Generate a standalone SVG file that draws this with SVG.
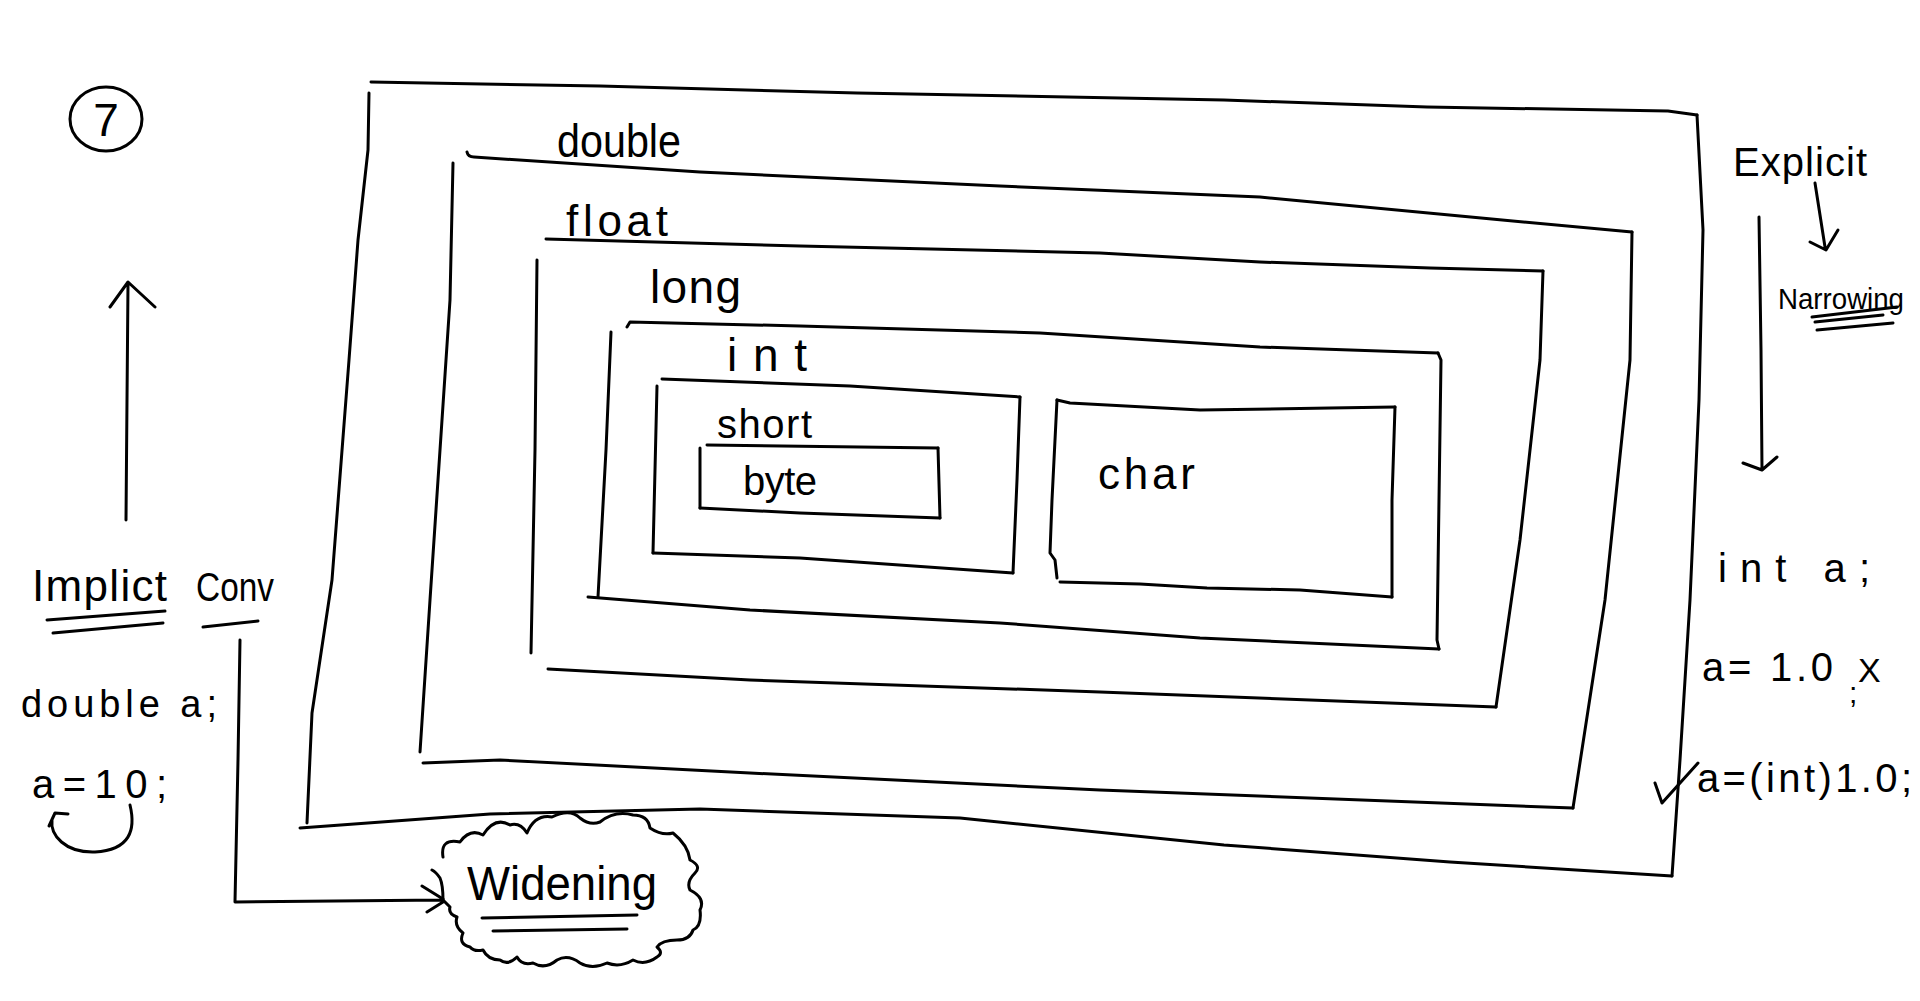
<svg xmlns="http://www.w3.org/2000/svg" width="1920" height="1001" viewBox="0 0 1920 1001">
<style>
.s{fill:none;stroke:#000;stroke-width:3;stroke-linecap:round;stroke-linejoin:round}
.t{font-family:"Liberation Sans",Arial,sans-serif;fill:#000}
</style>
<rect width="1920" height="1001" fill="#fff"/>
<g id="badge7">
<ellipse class="s" cx="106" cy="119" rx="36" ry="32"/>
<text class="t" x="106" y="136" font-size="46" text-anchor="middle">7</text>
</g>
<g id="box-double">
<path class="s" d="M371,82 L600,86 L857,93 L1224,100 L1427,107 L1668,111 L1697,115"/>
<path class="s" d="M1697,115 L1703,230 L1699,400 L1690,600 L1680,760 L1672,876"/>
<path class="s" d="M300,828 L490,814 L700,809 L960,818 L1224,845 L1450,862 L1672,876"/>
<path class="s" d="M369,93 L368,150 L358,240 L349,360 L332,580 L312,713 L307,823"/>
<text class="t" x="557" y="157" font-size="46" textLength="124" lengthAdjust="spacingAndGlyphs">double</text>
</g>
<g id="box-float">
<path class="s" d="M467,152 Q468,157 474,157 L700,172 L1000,186 L1260,197 L1460,216 L1632,232"/>
<path class="s" d="M1632,232 L1630,360 L1605,600 L1573,808"/>
<path class="s" d="M423,763 L500,760 L750,773 L1100,790 L1573,808"/>
<path class="s" d="M453,163 L450,300 L440,450 L430,600 L420,752"/>
<text class="t" x="566" y="236" font-size="44" textLength="102" lengthAdjust="spacing">float</text>
</g>
<g id="box-long">
<path class="s" d="M546,239 L800,246 L1100,253 L1260,262 L1430,268 L1543,271"/>
<path class="s" d="M1543,271 L1540,360 L1520,540 L1496,707"/>
<path class="s" d="M548,669 L750,680 L1100,692 L1496,707"/>
<path class="s" d="M537,260 L535,450 L531,653"/>
<text class="t" x="650" y="303" font-size="46" textLength="91" lengthAdjust="spacing">long</text>
</g>
<g id="box-int">
<path class="s" d="M627,327 L630,322 L800,326 L1040,333 L1260,347 L1438,353"/>
<path class="s" d="M1438,353 L1441,360 L1437,640 L1439,649"/>
<path class="s" d="M588,597 L750,610 L1000,623 L1200,638 L1439,649"/>
<path class="s" d="M611,332 L606,450 L598,597"/>
<text class="t" x="727" y="371" font-size="46" textLength="80" lengthAdjust="spacing">int</text>
</g>
<g id="box-short">
<path class="s" d="M662,379 L850,386 L1020,397"/>
<path class="s" d="M1020,397 L1017,480 L1013,573"/>
<path class="s" d="M653,553 L800,558 L1013,573"/>
<path class="s" d="M657,386 L655,470 L653,553"/>
<text class="t" x="717" y="438" font-size="40" textLength="95" lengthAdjust="spacing">short</text>
</g>
<g id="box-byte">
<path class="s" d="M707,445 L938,448"/>
<path class="s" d="M938,448 L940,518"/>
<path class="s" d="M700,508 L800,513 L940,518"/>
<path class="s" d="M700,448 L700,508"/>
<text class="t" x="743" y="495" font-size="40" textLength="74" lengthAdjust="spacing">byte</text>
</g>
<g id="box-char">
<path class="s" d="M1057,400 L1070,403 L1200,410 L1330,408 L1395,407"/>
<path class="s" d="M1395,407 L1392,500 L1392,597"/>
<path class="s" d="M1060,582 L1140,584 L1207,588 L1300,590 L1392,597"/>
<path class="s" d="M1057,400 L1052,500 L1050,553 L1055,560 L1057,578"/>
<text class="t" x="1098" y="489" font-size="44" textLength="97" lengthAdjust="spacing">char</text>
</g>
<g id="implicit-note">
<text class="t" x="32" y="601" font-size="44" textLength="135" lengthAdjust="spacing">Implict</text>
<path class="s" d="M47,620 L165,611 M53,633 L163,623"/>
<text class="t" x="196" y="601" font-size="40" textLength="78" lengthAdjust="spacingAndGlyphs">Conv</text>
<path class="s" d="M203,627 L258,621"/>
<text class="t" x="21" y="717" font-size="38" textLength="196" lengthAdjust="spacing">double a;</text>
<text class="t" x="32" y="798" font-size="40" textLength="135" lengthAdjust="spacing">a=10;</text>
</g>
<g id="widening">
<path class="s" d="M443,857 Q440,838 460,842 Q470,828 483,835 Q495,816 510,825 Q520,822 527,833 Q535,814 552,817 Q570,808 580,818 Q590,826 600,822 Q615,810 633,815 Q648,815 650,828 Q662,836 673,833 Q688,845 690,860 Q702,866 695,873 Q686,882 690,890 Q706,898 700,910 Q702,926 693,930 Q690,940 677,940 Q662,940 657,947 Q664,953 657,957 Q645,966 633,960 Q620,968 607,963 Q592,970 580,963 Q568,954 557,960 Q545,970 533,963 Q522,966 517,957 Q508,966 500,960 Q488,960 483,950 Q474,952 470,947 Q458,944 463,933 Q454,926 457,917 Q448,914 450,907 L443,900 Q443,885 440,878 Q436,872 432,870"/>
<text class="t" x="467" y="900" font-size="48" textLength="190" lengthAdjust="spacingAndGlyphs">Widening</text>
<path class="s" d="M482,918 L637,915 M493,931 L627,929"/>
</g>
<g id="explicit-note">
<text class="t" x="1733" y="176" font-size="40" textLength="134" lengthAdjust="spacing">Explicit</text>
<text class="t" x="1778" y="309" font-size="30" textLength="126" lengthAdjust="spacingAndGlyphs">Narrowing</text>
<path class="s" d="M1812,317 L1897,307 M1815,322 L1883,315 M1817,330 L1893,323"/>
<text class="t" x="1718" y="582" font-size="40" textLength="152" lengthAdjust="spacing">int a;</text>
<text class="t" x="1702" y="681" font-size="40" textLength="131" lengthAdjust="spacing">a= 1.0</text>
<text class="t" x="1849" y="703" font-size="30">;</text>
<text class="t" x="1858" y="682" font-size="34">X</text>
<path class="s" d="M1655,783 L1662,803 L1698,763"/>
<text class="t" x="1697" y="792" font-size="40" textLength="215" lengthAdjust="spacing">a=(int)1.0;</text>
</g>
<g id="connectors">
<path class="s" d="M126,520 L127,400 L128,284 M110,307 L128,282 L155,307"/>
<path class="s" d="M130,805 C136,830 130,850 95,852 C65,853 50,835 52,820 M49,826 L55,813 L68,814"/>
<path class="s" d="M240,640 L238,760 L235,902 L443,900 M422,886 L443,899 M427,912 L443,902"/>
<path class="s" d="M1815,183 L1825,247 M1810,242 L1826,250 L1838,230"/>
<path class="s" d="M1759,217 L1761,350 L1762,470 M1743,463 L1762,470 L1777,457"/>
</g>
</svg>
